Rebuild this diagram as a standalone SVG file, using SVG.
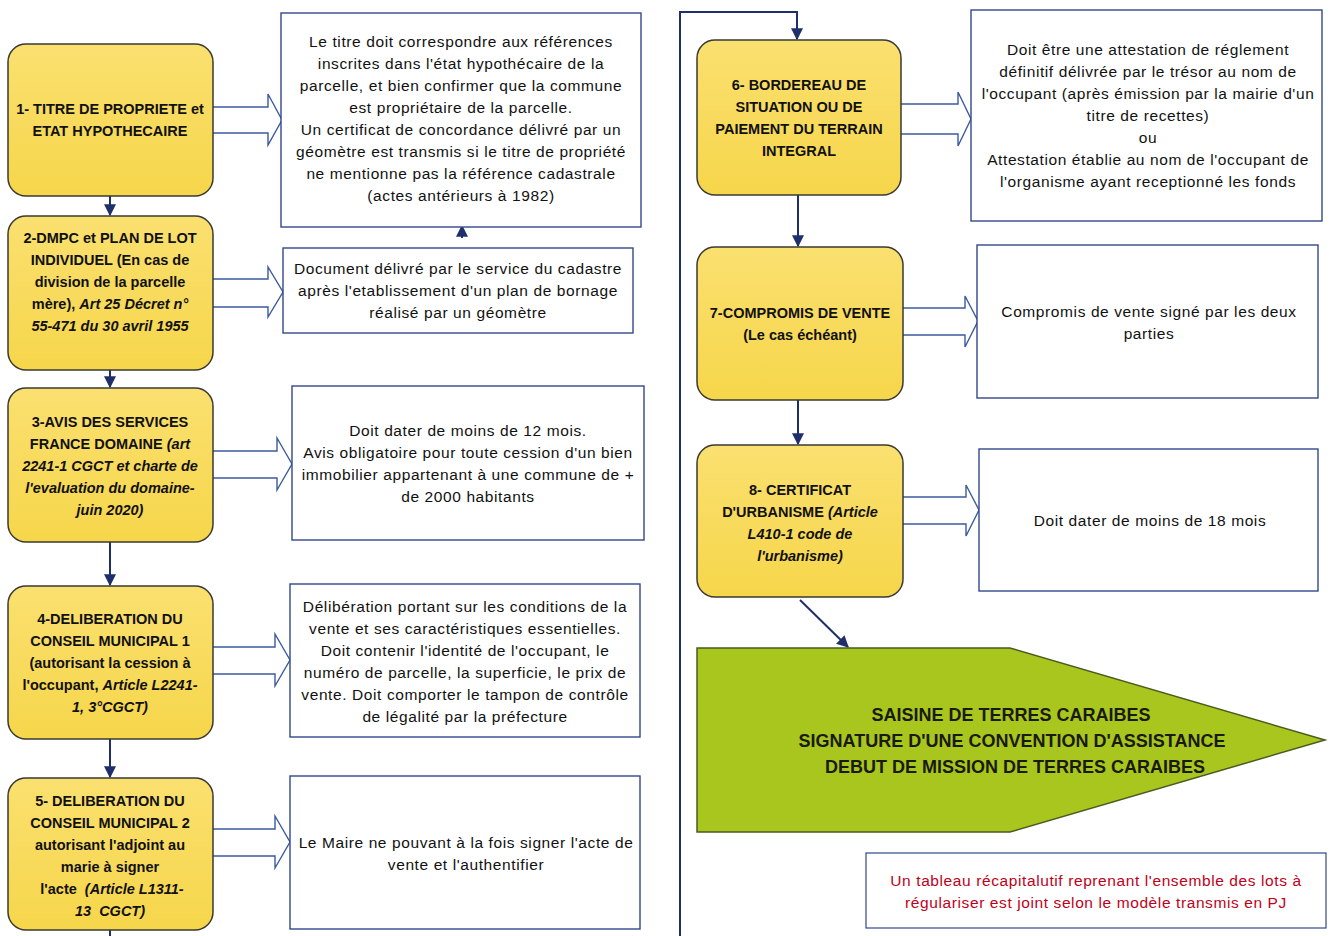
<svg xmlns="http://www.w3.org/2000/svg" width="1331" height="936" viewBox="0 0 1331 936">
<defs>
<linearGradient id="yg" x1="0" y1="0" x2="0" y2="1">
<stop offset="0" stop-color="#FAE070"/>
<stop offset="1" stop-color="#F6D64A"/>
</linearGradient>
<marker id="ahs" viewBox="0 0 10 10" refX="9" refY="5" markerWidth="12" markerHeight="12" orient="auto" markerUnits="userSpaceOnUse">
<path d="M0,0 L10,5 L0,10 Z" fill="#1F2F6B"/>
</marker>
</defs>
<style>
.y{fill:url(#yg);stroke:#3a3a32;stroke-width:1.5}
.w{fill:#fff;stroke:#34488A;stroke-width:1.4}
.ba{fill:#fff;stroke:#3C5AA0;stroke-width:1.4}
.c{fill:none;stroke:#1F2F6B;stroke-width:2}
.t{font-family:"Liberation Sans",Arial,sans-serif;font-size:15.5px;letter-spacing:0.6px;fill:#111;text-anchor:middle}
.b{font-family:"Liberation Sans",Arial,sans-serif;font-size:14.5px;font-weight:bold;fill:#111;text-anchor:middle}
.i{font-style:italic}
.g{font-family:"Liberation Sans",Arial,sans-serif;font-size:18px;font-weight:bold;fill:#1a1a0a;text-anchor:middle}
.r{font-family:"Liberation Sans",Arial,sans-serif;font-size:15.5px;letter-spacing:0.6px;fill:#C0001A;text-anchor:middle}
</style>
<rect width="1331" height="936" fill="#fff"/>

<g id="connectors">
<line class="c" x1="110" y1="196" x2="110" y2="215" marker-end="url(#ahs)"/>
<line class="c" x1="110" y1="370" x2="110" y2="387" marker-end="url(#ahs)"/>
<line class="c" x1="110" y1="542" x2="110" y2="585" marker-end="url(#ahs)"/>
<line class="c" x1="110" y1="739" x2="110" y2="777" marker-end="url(#ahs)"/>
<line class="c" x1="110" y1="930" x2="110" y2="936"/>
<polyline class="c" points="680,936 680,12 797,12 797,39" marker-end="url(#ahs)"/>
<line class="c" x1="798" y1="195" x2="798" y2="246" marker-end="url(#ahs)"/>
<line class="c" x1="798" y1="400" x2="798" y2="444" marker-end="url(#ahs)"/>
<line class="c" x1="800" y1="600" x2="848" y2="647" marker-end="url(#ahs)"/>
<line class="c" x1="462" y1="238" x2="462" y2="226" marker-end="url(#ahs)"/>
<line class="c" x1="463" y1="666" x2="463" y2="652" marker-end="url(#ahs)"/>
<path class="ba" d="M213,107 L268,107 L268,94 L282,120 L268,145 L268,133 L213,133"/>
<path class="ba" d="M213,279 L268,279 L268,267 L283,292 L268,317 L268,307 L213,307"/>
<path class="ba" d="M213,451 L277,451 L277,438 L292,464 L277,490 L277,478 L213,478"/>
<path class="ba" d="M213,647 L275,647 L275,634 L290,660 L275,686 L275,674 L213,674"/>
<path class="ba" d="M213,829 L275,829 L275,816 L290,842 L275,868 L275,856 L213,856"/>
<path class="ba" d="M901,104 L958,104 L958,92 L971,119 L958,146 L958,134 L901,134"/>
<path class="ba" d="M903,308 L965,308 L965,296 L978,321 L965,347 L965,335 L903,335"/>
<path class="ba" d="M903,497 L966,497 L966,485 L979,510 L966,536 L966,524 L903,524"/>
</g>

<g id="n1"><rect class="y" x="8" y="44" width="205" height="152" rx="18"/>
<text class="b" x="110" y="114">1- TITRE DE PROPRIETE et</text>
<text class="b" x="110" y="136">ETAT HYPOTHECAIRE</text></g>

<g id="n2"><rect class="y" x="8" y="216" width="205" height="154" rx="18"/>
<text class="b" x="110" y="243">2-DMPC et PLAN DE LOT</text>
<text class="b" x="110" y="265">INDIVIDUEL (En cas de</text>
<text class="b" x="110" y="287">division de la parcelle</text>
<text class="b" x="110" y="309">mère), <tspan class="i">Art 25 Décret n°</tspan></text>
<text class="b i" x="110" y="331">55-471 du 30 avril 1955</text></g>

<g id="n3"><rect class="y" x="8" y="388" width="205" height="154" rx="18"/>
<text class="b" x="110" y="427">3-AVIS DES SERVICES</text>
<text class="b" x="110" y="449">FRANCE DOMAINE <tspan class="i">(art</tspan></text>
<text class="b i" x="110" y="471">2241-1 CGCT et charte de</text>
<text class="b i" x="110" y="493">l'evaluation du domaine-</text>
<text class="b i" x="110" y="515">juin 2020)</text></g>

<g id="n4"><rect class="y" x="8" y="586" width="205" height="153" rx="18"/>
<text class="b" x="110" y="624">4-DELIBERATION DU</text>
<text class="b" x="110" y="646">CONSEIL MUNICIPAL 1</text>
<text class="b" x="110" y="668">(autorisant la cession à</text>
<text class="b" x="110" y="690">l'occupant, <tspan class="i">Article L2241-</tspan></text>
<text class="b i" x="110" y="712">1, 3°CGCT)</text></g>

<g id="n5"><rect class="y" x="8" y="778" width="205" height="152" rx="18"/>
<text class="b" x="110" y="806">5- DELIBERATION DU</text>
<text class="b" x="110" y="828">CONSEIL MUNICIPAL 2</text>
<text class="b" x="110" y="850">autorisant l'adjoint au</text>
<text class="b" x="110" y="872">marie à signer</text>
<text class="b" x="112" y="894" xml:space="preserve">l'acte  <tspan class="i">(Article L1311-</tspan></text>
<text class="b i" x="110" y="916" xml:space="preserve">13  CGCT)</text></g>

<g id="nA"><rect class="w" x="281" y="13" width="360" height="214"/>
<text class="t" x="461" y="47">Le titre doit correspondre aux références</text>
<text class="t" x="461" y="69">inscrites dans l'état hypothécaire de la</text>
<text class="t" x="461" y="91">parcelle, et bien confirmer que la commune</text>
<text class="t" x="461" y="113">est propriétaire de la parcelle.</text>
<text class="t" x="461" y="135">Un certificat de concordance délivré par un</text>
<text class="t" x="461" y="157">géomètre est transmis si le titre de propriété</text>
<text class="t" x="461" y="179">ne mentionne pas la référence cadastrale</text>
<text class="t" x="461" y="201">(actes antérieurs à 1982)</text></g>

<g id="nB"><rect class="w" x="283" y="248" width="350" height="85"/>
<text class="t" x="458" y="274">Document délivré par le service du cadastre</text>
<text class="t" x="458" y="296">après l'etablissement d'un plan de bornage</text>
<text class="t" x="458" y="318">réalisé par un géomètre</text></g>

<g id="nC"><rect class="w" x="292" y="386" width="352" height="154"/>
<text class="t" x="468" y="436">Doit dater de moins de 12 mois.</text>
<text class="t" x="468" y="458">Avis obligatoire pour toute cession d'un bien</text>
<text class="t" x="468" y="480">immobilier appartenant à une commune de +</text>
<text class="t" x="468" y="502">de 2000 habitants</text></g>

<g id="nD"><rect class="w" x="290" y="584" width="350" height="153"/>
<text class="t" x="465" y="612">Délibération portant sur les conditions de la</text>
<text class="t" x="465" y="634">vente et ses caractéristiques essentielles.</text>
<text class="t" x="465" y="656">Doit contenir l'identité de l'occupant, le</text>
<text class="t" x="465" y="678">numéro de parcelle, la superficie, le prix de</text>
<text class="t" x="465" y="700">vente. Doit comporter le tampon de contrôle</text>
<text class="t" x="465" y="722">de légalité par la préfecture</text></g>

<g id="nE"><rect class="w" x="290" y="776" width="350" height="153"/>
<text class="t" x="466" y="848">Le Maire ne pouvant à la fois signer l'acte de</text>
<text class="t" x="466" y="870">vente et l'authentifier</text></g>

<g id="n6"><rect class="y" x="697" y="40" width="204" height="155" rx="18"/>
<text class="b" x="799" y="90">6- BORDEREAU DE</text>
<text class="b" x="799" y="112">SITUATION OU DE</text>
<text class="b" x="799" y="134">PAIEMENT DU TERRAIN</text>
<text class="b" x="799" y="156">INTEGRAL</text></g>

<g id="n7"><rect class="y" x="697" y="247" width="206" height="153" rx="18"/>
<text class="b" x="800" y="318">7-COMPROMIS DE VENTE</text>
<text class="b" x="800" y="340">(Le cas échéant)</text></g>

<g id="n8"><rect class="y" x="697" y="445" width="206" height="152" rx="18"/>
<text class="b" x="800" y="495">8- CERTIFICAT</text>
<text class="b" x="800" y="517">D'URBANISME <tspan class="i">(Article</tspan></text>
<text class="b i" x="800" y="539">L410-1 code de</text>
<text class="b i" x="800" y="561">l'urbanisme)</text></g>

<g id="nF"><rect class="w" x="971" y="10" width="351" height="211"/>
<text class="t" x="1148" y="55">Doit être une attestation de réglement</text>
<text class="t" x="1148" y="77">définitif délivrée par le trésor au nom de</text>
<text class="t" x="1148" y="99">l'occupant (après émission par la mairie d'un</text>
<text class="t" x="1148" y="121">titre de recettes)</text>
<text class="t" x="1148" y="143">ou</text>
<text class="t" x="1148" y="165">Attestation établie au nom de l'occupant de</text>
<text class="t" x="1148" y="187">l'organisme ayant receptionné les fonds</text></g>

<g id="nG"><rect class="w" x="977" y="245" width="341" height="153"/>
<text class="t" x="1149" y="317">Compromis de vente signé par les deux</text>
<text class="t" x="1149" y="339">parties</text></g>

<g id="nH"><rect class="w" x="979" y="449" width="339" height="142"/>
<text class="t" x="1150" y="526">Doit dater de moins de 18 mois</text></g>

<g id="nGreen"><polygon points="697,648 1010,648 1325,740 1010,832 697,832" fill="#A8C61E" stroke="#4a5a20" stroke-width="1.5"/>
<text class="g" x="1011" y="721">SAISINE DE TERRES CARAIBES</text>
<text class="g" x="1012" y="747">SIGNATURE D'UNE CONVENTION D'ASSISTANCE</text>
<text class="g" x="1015" y="773">DEBUT DE MISSION DE TERRES CARAIBES</text></g>

<g id="nNote"><rect x="866" y="853" width="460" height="75" fill="#fff" stroke="#34488A" stroke-width="1.2"/>
<text class="r" x="1096" y="886">Un tableau récapitalutif reprenant l'ensemble des lots à</text>
<text class="r" x="1096" y="908">régulariser est joint selon le modèle transmis en PJ</text></g>
</svg>
